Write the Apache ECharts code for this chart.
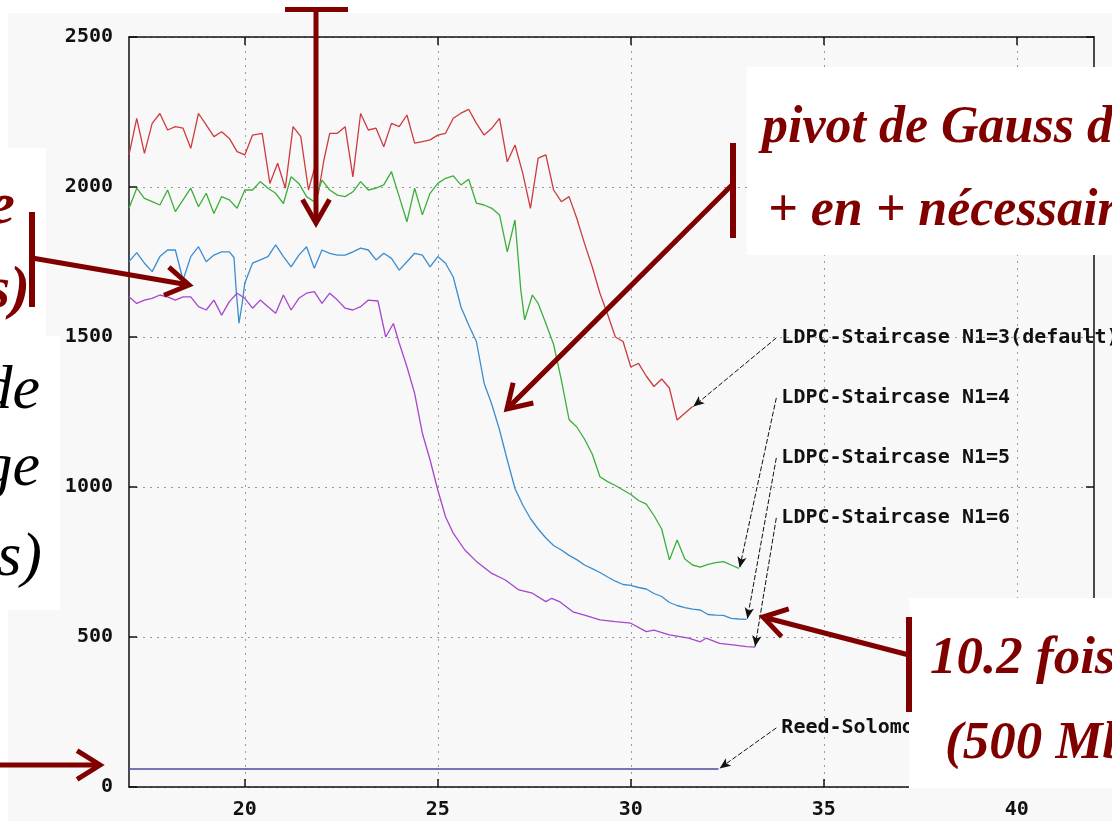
<!DOCTYPE html>
<html>
<head>
<meta charset="utf-8">
<script src="https://cdn.jsdelivr.net/npm/echarts@6/dist/echarts.min.js"></script>
<style>
html,body{margin:0;padding:0;background:#ffffff;}
#chart{width:1112px;height:821px;}
</style>
</head>
<body>
<div id="chart"></div>
<script>
// ---------------- DATA ----------------
const xTickValues = [20, 25, 30, 35, 40];

const ldpcN1_3 = [[17.0,2107],[17.2,2229],[17.4,2112],[17.6,2212],[17.8,2245],[18.0,2190],[18.2,2201],[18.4,2196],[18.6,2129],[18.8,2245],[19.0,2207],[19.2,2168],[19.4,2184],[19.6,2162],[19.8,2118],[20.0,2107],[20.2,2173],[20.45,2179],[20.65,2012],[20.85,2079],[21.05,1996],[21.25,2201],[21.45,2168],[21.65,1990],[21.8,2060],[21.9,1975],[22.05,2090],[22.2,2179],[22.4,2179],[22.6,2201],[22.8,2034],[23.0,2245],[23.2,2190],[23.4,2196],[23.6,2134],[23.8,2212],[24.0,2201],[24.2,2240],[24.4,2146],[24.6,2151],[24.8,2157],[25.0,2173],[25.2,2179],[25.4,2229],[25.6,2246],[25.8,2259],[26.0,2212],[26.2,2173],[26.4,2196],[26.6,2229],[26.8,2084],[27.0,2140],[27.2,2046],[27.4,1929],[27.6,2096],[27.8,2107],[28.0,1990],[28.2,1951],[28.4,1968],[28.6,1896],[28.8,1812],[29.0,1734],[29.2,1646],[29.4,1575],[29.6,1500],[29.8,1485],[30.0,1400],[30.2,1412],[30.4,1370],[30.6,1335],[30.8,1360],[31.0,1330],[31.2,1223],[31.4,1246],[31.6,1268]];

const ldpcN1_4 = [[17.0,1929],[17.2,1996],[17.4,1962],[17.6,1951],[17.8,1940],[18.0,1990],[18.2,1918],[18.4,1957],[18.6,1996],[18.8,1934],[19.0,1979],[19.2,1912],[19.4,1968],[19.6,1957],[19.8,1929],[20.0,1990],[20.2,1990],[20.4,2018],[20.6,1996],[20.8,1979],[21.0,1945],[21.2,2034],[21.4,2012],[21.6,1968],[21.8,1951],[22.0,2023],[22.2,1990],[22.4,1973],[22.6,1968],[22.8,1984],[23.0,2018],[23.2,1990],[23.4,1996],[23.6,2007],[23.8,2051],[24.0,1968],[24.2,1884],[24.4,1996],[24.6,1907],[24.8,1979],[25.0,2012],[25.2,2029],[25.4,2037],[25.6,2007],[25.8,2026],[26.0,1946],[26.2,1940],[26.4,1929],[26.6,1907],[26.8,1784],[27.0,1890],[27.15,1657],[27.25,1557],[27.45,1640],[27.6,1612],[27.8,1545],[28.0,1475],[28.2,1357],[28.4,1225],[28.6,1200],[28.8,1160],[29.0,1110],[29.2,1034],[29.4,1018],[29.6,1005],[29.8,990],[30.0,975],[30.2,955],[30.4,943],[30.6,905],[30.8,860],[31.0,757],[31.2,823],[31.4,760],[31.6,740],[31.8,733],[32.0,742],[32.2,748],[32.4,751],[32.6,740],[32.8,729]];

const ldpcN1_5 = [[17.0,1751],[17.2,1781],[17.4,1746],[17.6,1718],[17.8,1768],[18.0,1790],[18.2,1790],[18.4,1690],[18.6,1768],[18.8,1801],[19.0,1751],[19.2,1773],[19.4,1784],[19.6,1784],[19.72,1765],[19.78,1650],[19.85,1546],[19.93,1610],[20.0,1680],[20.2,1746],[20.4,1757],[20.6,1768],[20.8,1807],[21.0,1768],[21.2,1734],[21.4,1773],[21.6,1801],[21.8,1729],[22.0,1790],[22.2,1779],[22.4,1773],[22.6,1773],[22.8,1784],[23.0,1796],[23.2,1790],[23.4,1757],[23.6,1779],[23.8,1762],[24.0,1723],[24.2,1751],[24.4,1779],[24.6,1773],[24.8,1734],[25.0,1768],[25.2,1746],[25.4,1700],[25.6,1600],[25.8,1540],[26.0,1485],[26.2,1346],[26.4,1275],[26.6,1190],[26.8,1090],[27.0,995],[27.2,940],[27.4,895],[27.6,860],[27.8,830],[28.0,805],[28.2,790],[28.4,772],[28.6,758],[28.8,740],[29.0,728],[29.2,715],[29.4,700],[29.6,686],[29.8,675],[30.0,672],[30.2,665],[30.4,660],[30.6,645],[30.8,635],[31.0,615],[31.2,605],[31.4,598],[31.6,593],[31.8,590],[32.0,575],[32.2,573],[32.4,572],[32.6,562],[32.8,560],[33.0,559]];

const ldpcN1_6 = [[17.0,1634],[17.2,1612],[17.4,1623],[17.6,1629],[17.8,1640],[18.0,1634],[18.2,1623],[18.4,1634],[18.6,1634],[18.8,1601],[19.0,1590],[19.2,1623],[19.4,1573],[19.6,1618],[19.8,1646],[20.0,1629],[20.2,1596],[20.4,1623],[20.6,1601],[20.8,1579],[21.0,1640],[21.2,1590],[21.4,1629],[21.6,1646],[21.8,1651],[22.0,1612],[22.2,1646],[22.4,1623],[22.6,1596],[22.8,1590],[23.0,1601],[23.2,1623],[23.45,1620],[23.65,1500],[23.85,1545],[24.0,1480],[24.2,1401],[24.4,1312],[24.6,1179],[24.8,1090],[25.0,990],[25.2,901],[25.4,846],[25.7,790],[26.0,752],[26.4,712],[26.75,690],[27.1,657],[27.45,646],[27.8,618],[27.95,629],[28.15,618],[28.5,584],[28.8,573],[29.2,557],[29.6,551],[30.0,546],[30.4,518],[30.6,523],[31.0,507],[31.5,496],[31.8,484],[31.95,496],[32.3,479],[32.7,473],[33.0,468],[33.22,466]];

const reedSolomon = [[17.0,60],[32.27,60]];

const seriesNames = ['LDPC-Staircase N1=3(default)','LDPC-Staircase N1=4','LDPC-Staircase N1=5','LDPC-Staircase N1=6','Reed-Solomon'];
const labelAnchors = [[33.9,1497],[33.9,1297],[33.9,1097],[33.9,897],[33.9,197]];
const arrowStarts  = [[33.77,1497],[33.77,1297],[33.77,1097],[33.77,897],[33.77,197]];
const arrowTips    = [[31.62,1268],[32.82,731],[33.02,561],[33.22,468],[32.3,62]];

// ---------------- STYLE ----------------
const colors = ['#cc3b40','#3cae3c','#3a8dd0','#a646cc','#4a4a9c'];
const monoFont = 'DejaVu Sans Mono';
const maroon = '#800000';

const allData = [ldpcN1_3, ldpcN1_4, ldpcN1_5, ldpcN1_6, reedSolomon];

const series = allData.map((d, i) => ({
  name: seriesNames[i],
  type: 'line',
  data: d,
  showSymbol: false,
  symbol: 'none',
  lineStyle: { color: colors[i], width: 1.3 },
  itemStyle: { color: colors[i] },
  animation: false,
  silent: true,
  z: 3,
  markLine: {
    silent: true,
    animation: false,
    symbol: ['none', 'arrow'],
    symbolSize: [7, 11],
    lineStyle: { color: '#111', width: 1, type: [5, 2] },
    label: { show: false },
    data: [[{ coord: arrowStarts[i] }, { coord: arrowTips[i] }]]
  },
  markPoint: {
    silent: true,
    animation: false,
    symbol: 'circle',
    symbolSize: 0,
    data: [{ coord: labelAnchors[i] }],
    label: {
      show: true,
      position: 'right',
      distance: 0,
      formatter: seriesNames[i],
      color: '#111',
      fontFamily: monoFont,
      fontWeight: 'bold',
      fontSize: 20
    }
  }
}));

function arrowShapes(x0, y0, x1, y1, len, angDeg, w) {
  const dx = x1 - x0, dy = y1 - y0, L = Math.hypot(dx, dy);
  const bx = -dx / L, by = -dy / L;
  const a = angDeg * Math.PI / 180, c = Math.cos(a), s = Math.sin(a);
  const p1 = [x1 + len * (bx * c - by * s), y1 + len * (bx * s + by * c)];
  const p2 = [x1 + len * (bx * c + by * s), y1 + len * (-bx * s + by * c)];
  const st = { stroke: maroon, lineWidth: w, fill: null, lineJoin: 'miter', lineCap: 'butt' };
  return [
    { type: 'polyline', z: 100, silent: true, shape: { points: [[x0, y0], [x1 + bx * 3, y1 + by * 3]] }, style: st },
    { type: 'polyline', z: 100, silent: true, shape: { points: [p1, [x1, y1], p2] }, style: st }
  ];
}
function bar(x0, y0, x1, y1, w) {
  return { type: 'line', z: 100, silent: true, shape: { x1: x0, y1: y0, x2: x1, y2: y1 }, style: { stroke: maroon, lineWidth: w } };
}
function box(x, y, w, h) {
  return { type: 'rect', z: 90, silent: true, shape: { x, y, width: w, height: h }, style: { fill: '#ffffff' } };
}
function txt(t, x, y, size, color, weight, align) {
  return { type: 'text', z: 101, silent: true, x, y,
    style: { text: t, fill: color, font: 'italic ' + weight + ' ' + size + 'px "Liberation Serif", "DejaVu Serif", serif',
      align: align || 'left', verticalAlign: 'middle' } };
}

const graphics = [
  // slide background around the screenshot
  { type: 'rect', z: -10, silent: true, shape: { x: 0, y: 0, width: 1112, height: 13 }, style: { fill: '#ffffff' } },
  { type: 'rect', z: -10, silent: true, shape: { x: 0, y: 0, width: 8, height: 821 }, style: { fill: '#ffffff' } },
  // white annotation boxes
  box(0, 148, 46, 188),
  box(0, 336, 60, 274),
  box(747, 67, 365, 188),
  box(909, 598, 203, 190),
  // top "T" arrow
  bar(285, 9.5, 348, 9.5, 5),
  ...arrowShapes(316, 9, 316, 223, 27, 30, 5),
  // left top arrow
  bar(32, 212, 32, 307, 6),
  ...arrowShapes(32, 258, 189, 285, 27, 32, 5),
  // pivot arrow
  bar(733, 143, 733, 238, 6),
  ...arrowShapes(733, 184, 507, 409, 27, 32, 5),
  // bottom right arrow
  bar(909, 617, 909, 712, 6),
  ...arrowShapes(909, 655, 763, 617, 27, 32, 5),
  // bottom left arrow
  ...arrowShapes(0, 765, 100, 765, 27, 32, 5),
  // texts
  txt('e', 15, 207, 60, maroon, 'bold', 'right'),
  txt('s)', 30, 291, 60, maroon, 'bold', 'right'),
  txt('de', 40, 392, 62, '#000', 'normal', 'right'),
  txt('ge', 40, 469, 62, '#000', 'normal', 'right'),
  txt('s)', 42, 559, 62, '#000', 'normal', 'right'),
  txt('pivot de Gauss de', 762, 129, 52, maroon, 'bold'),
  txt('+ en + nécessaire', 768, 212, 52, maroon, 'bold'),
  txt('10.2 fois', 930, 659, 53, maroon, 'bold'),
  txt('(500 Mbps)', 945, 744, 53, maroon, 'bold')
];

const axisLineStyle = { color: '#111', width: 1.5 };
const gridLineStyle = { color: '#9a9a9a', width: 1, type: [2, 5] };
const labelStyle = { color: '#111', fontFamily: monoFont, fontWeight: 'bold', fontSize: 20 };
const plainNum = v => String(v);

const option = {
  backgroundColor: '#f8f8f8',
  animation: false,
  grid: { left: 129, right: 18, top: 37, bottom: 34, show: false },
  xAxis: [
    { type: 'value', min: 17, max: 42, position: 'bottom',
      axisLine: { show: true, onZero: false, lineStyle: axisLineStyle },
      axisTick: { show: true, inside: true, length: 8, lineStyle: { color: '#111', width: 1.5 }, customValues: xTickValues },
      axisLabel: Object.assign({ margin: 13, customValues: xTickValues, formatter: plainNum }, labelStyle),
      splitLine: { show: true, lineStyle: gridLineStyle } },
    { type: 'value', min: 17, max: 42, position: 'top',
      axisLine: { show: true, onZero: false, lineStyle: axisLineStyle },
      axisTick: { show: true, inside: true, length: 8, lineStyle: { color: '#111', width: 1.5 }, customValues: xTickValues },
      axisLabel: { show: false, customValues: xTickValues },
      splitLine: { show: false } }
  ],
  yAxis: [
    { type: 'value', min: 0, max: 2500, interval: 500, position: 'left',
      axisLine: { show: true, onZero: false, lineStyle: axisLineStyle },
      axisTick: { show: true, inside: true, length: 8, lineStyle: { color: '#111', width: 1.5 } },
      axisLabel: Object.assign({ margin: 16, formatter: plainNum }, labelStyle),
      splitLine: { show: true, lineStyle: gridLineStyle } },
    { type: 'value', min: 0, max: 2500, interval: 500, position: 'right',
      axisLine: { show: true, onZero: false, lineStyle: axisLineStyle },
      axisTick: { show: true, inside: true, length: 8, lineStyle: { color: '#111', width: 1.5 } },
      axisLabel: { show: false },
      splitLine: { show: false } }
  ],
  series,
  graphic: { elements: graphics }
};

const chart = echarts.init(document.getElementById('chart'), null, { renderer: 'canvas' });
chart.setOption(option);
</script>
</body>
</html>
